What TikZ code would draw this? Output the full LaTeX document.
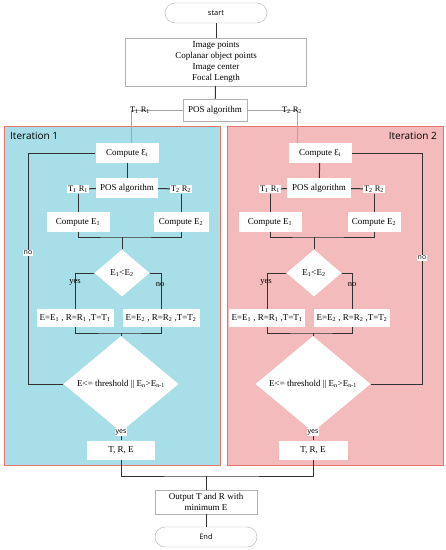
\documentclass[tikz,border=0pt]{standalone}
\usepackage{fontspec}
\setmainfont{Liberation Serif}
\newfontfamily\sansf{Open Sans}
\usetikzlibrary{shapes.geometric}
\definecolor{lblue}{RGB}{168,222,232}
\definecolor{lpink}{RGB}{243,187,187}
\definecolor{pred}{RGB}{232,116,108}
\definecolor{lncol}{RGB}{50,50,50}
\tikzset{
 wbox/.style={draw=gray!60, fill=white, inner sep=0pt, align=center, font=\fontsize{9}{11}\selectfont},
 pbox/.style={fill=white, inner sep=0pt, align=center, font=\fontsize{9}{11}\selectfont},
 term/.style={draw=gray!60, fill=white, rounded corners=10pt, inner sep=0pt, font=\sansf\fontsize{7.5}{9}\selectfont, minimum width=102pt, minimum height=20pt},
 dia/.style={diamond, fill=white, inner sep=0pt, font=\fontsize{9}{11}\selectfont},
 conn/.style={draw=lncol, line width=1pt},
 tconn/.style={draw=gray!70, line width=0.9pt},
 tr/.style={inner sep=1pt, font=\fontsize{8.5}{10}\selectfont},
 trw/.style={fill=white, inner sep=1pt, font=\fontsize{8.5}{10}\selectfont},
 yn/.style={inner sep=0.5pt, font=\fontsize{8.5}{10}\selectfont},
 ynw/.style={fill=white, inner sep=1pt, font=\sansf\fontsize{7}{8}\selectfont},
 panel/.style={draw=pred, line width=0.8pt},
 ititle/.style={font=\sansf\fontsize{10}{12}\selectfont, inner sep=0pt}
}
\begin{document}
\begin{tikzpicture}[x=1pt,y=-1pt]
\useasboundingbox (0,0) rectangle (446,550);
% panels
\fill[lblue] (4,126) rectangle (220,465);
\draw[panel] (4,126) rectangle (220,465);
\fill[lpink] (227,126) rectangle (443,465);
\draw[panel] (227,126) rectangle (443,465);
\node[ititle, anchor=west] (it1) at (10,136) {Iteration 1};
\node[ititle, anchor=east] (it2) at (437,136) {Iteration 2};

% top
\node[term] (start) at (216,13) {start};
\node[wbox, minimum width=181pt, minimum height=48pt] (inp) at (216,62) {Image points\\Coplanar object points\\Image center\\Focal Length};
\node[wbox, minimum width=64pt, minimum height=22pt] (pos0) at (215,110) {POS algorithm};
\coordinate (tc1) at (131,110);
\coordinate (tc2) at (297,110);

% iteration 1
\node[pbox, minimum width=63pt, minimum height=20pt] (cei1) at (127,153) {Compute Ɛ\textsubscript{i}};
\node[pbox, minimum width=62pt, minimum height=20pt] (pos1) at (127,188) {POS algorithm};
\node[trw] (l11) at (78,189) {T\textsubscript{1} R\textsubscript{1}};
\node[trw] (l12) at (181,189) {T\textsubscript{2} R\textsubscript{2}};
\node[pbox, minimum width=63pt, minimum height=20pt] (ce11) at (78,222) {Compute E\textsubscript{1}};
\node[pbox, minimum width=55pt, minimum height=20pt] (ce12) at (181,222) {Compute E\textsubscript{2}};
\coordinate (j11) at (122,237);
\node[dia, minimum width=55pt, minimum height=47pt] (d11) at (122,273) {E\textsubscript{1}<E\textsubscript{2}};
\node[pbox, minimum width=77pt, minimum height=18pt] (eq11) at (75,318) {E=E\textsubscript{1} , R=R\textsubscript{1} ,T=T\textsubscript{1}};
\node[pbox, minimum width=77pt, minimum height=18pt] (eq12) at (161,318) {E=E\textsubscript{2} , R=R\textsubscript{2} ,T=T\textsubscript{2}};
\coordinate (j12) at (121,333);
\node[dia, minimum width=115pt, minimum height=73pt] (d12) at (121,384) {E<= threshold || E\textsubscript{n}>E\textsubscript{n-1}};
\node[pbox, minimum width=68pt, minimum height=19pt] (tre1) at (121,450) {T, R, E};
\coordinate (lp1) at (28,153);

% iteration 2
\node[pbox, minimum width=63pt, minimum height=20pt] (cei2) at (320,153) {Compute Ɛ\textsubscript{i}};
\node[pbox, minimum width=64pt, minimum height=20pt] (pos2) at (319,188) {POS algorithm};
\node[trw] (l21) at (270,189) {T\textsubscript{1} R\textsubscript{1}};
\node[trw] (l22) at (374,189) {T\textsubscript{2} R\textsubscript{2}};
\node[pbox, minimum width=63pt, minimum height=20pt] (ce21) at (270,222) {Compute E\textsubscript{1}};
\node[pbox, minimum width=53pt, minimum height=20pt] (ce22) at (374,222) {Compute E\textsubscript{2}};
\coordinate (j21) at (314,237);
\node[dia, minimum width=55pt, minimum height=47pt] (d21) at (314,273) {E\textsubscript{1}<E\textsubscript{2}};
\node[pbox, minimum width=76pt, minimum height=18pt] (eq21) at (267,318) {E=E\textsubscript{1} , R=R\textsubscript{1} ,T=T\textsubscript{1}};
\node[pbox, minimum width=76pt, minimum height=18pt] (eq22) at (352,318) {E=E\textsubscript{2} , R=R\textsubscript{2} ,T=T\textsubscript{2}};
\coordinate (j22) at (313,333);
\node[dia, minimum width=115pt, minimum height=73pt] (d22) at (313,384) {E<= threshold || E\textsubscript{n}>E\textsubscript{n-1}};
\node[pbox, minimum width=69pt, minimum height=19pt] (tre2) at (313,450) {T, R, E};
\coordinate (lp2) at (422,153);

% bottom
\coordinate (j3) at (206,476);
\node[wbox, minimum width=102pt, minimum height=24pt] (out) at (206,502) {Output T and R with\\minimum E};
\node[term] (end) at (206,537) {End};

% top connectors
\draw[conn] (start) -- (inp);
\draw[conn] (inp) -- (pos0);
\draw[tconn] (pos0) -- (tc1) -- (tc1 |- cei1.north);
\draw[tconn] (pos0) -- (tc2) -- (tc2 |- cei2.north);
\node[tr] (t1top) at (140,110) {T\textsubscript{1} R\textsubscript{1}};
\node[tr] (t2top) at (292,110) {T\textsubscript{2} R\textsubscript{2}};

% iteration 1 connectors
\draw[conn] (cei1) -- (pos1);
\draw[conn] (pos1) -- (l11);
\draw[conn] (pos1) -- (l12);
\draw[conn] (l11) -- (ce11);
\draw[conn] (l12) -- (ce12);
\draw[conn] (ce11) |- (j11) -| (ce12);
\draw[conn] (j11) -- (d11);
\draw[conn] (d11.west) -| (eq11);
\draw[conn] (d11.east) -| (eq12);
\node[yn] (y11) at (75,282) {yes};
\node[yn] (n11) at (160,285) {no};
\draw[conn] (eq11) |- (j12) -| (eq12);
\draw[conn] (j12) -- (d12);
\draw[conn] (d12.west) -| (lp1) -- (cei1.west);
\node[ynw] (n12) at (28,253) {no};
\draw[conn] (d12) -- (tre1);
\node[ynw] (y12) at (121,432) {yes};

% iteration 2 connectors
\draw[conn] (cei2) -- (pos2);
\draw[conn] (pos2) -- (l21);
\draw[conn] (pos2) -- (l22);
\draw[conn] (l21) -- (ce21);
\draw[conn] (l22) -- (ce22);
\draw[conn] (ce21) |- (j21) -| (ce22);
\draw[conn] (j21) -- (d21);
\draw[conn] (d21.west) -| (eq21);
\draw[conn] (d21.east) -| (eq22);
\node[yn] (y21) at (266,282) {yes};
\node[yn] (n21) at (352,285) {no};
\draw[conn] (eq21) |- (j22) -| (eq22);
\draw[conn] (j22) -- (d22);
\draw[conn] (d22.east) -| (lp2) -- (cei2.east);
\node[ynw] (n22) at (422,258) {no};
\draw[conn] (d22) -- (tre2);
\node[ynw] (y22) at (313,432) {yes};

% bottom connectors
\draw[conn] (tre1) |- (j3) -| (tre2);
\draw[conn] (j3) -- (out);
\draw[conn] (out) -- (end);
\end{tikzpicture}
\end{document}
